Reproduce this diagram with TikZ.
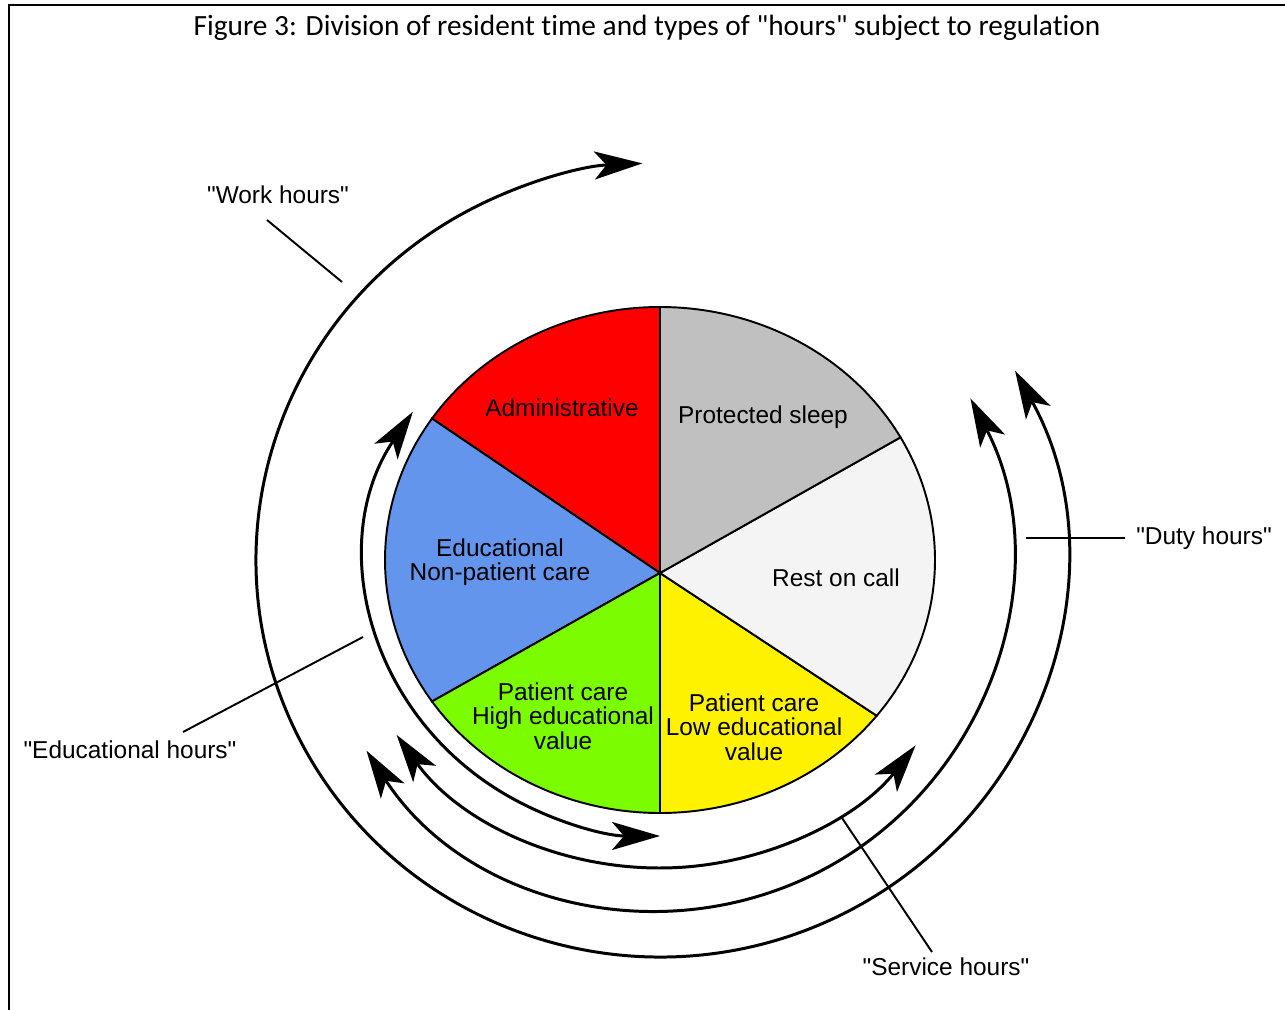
\documentclass[tikz,border=0pt]{standalone}
\usepackage{fontspec}
\setmainfont{Liberation Sans}
\newfontfamily\captionfont[RawFeature={-liga;-clig;-calt;-dlig}]{Carlito}
\usetikzlibrary{calc,arrows.meta}

\tikzset{
  slice/.style={draw=black,line width=1.1pt},
  txt/.style={font=\fontsize{13.9pt}{13.9pt}\selectfont,align=center,inner sep=0pt},
  span/.style={line width=1.7pt},
  leader/.style={line width=1.1pt},
}

\begin{document}
\begin{tikzpicture}[x=0.02cm,y=0.02cm,>={Stealth[length=0.96cm,width=0.56cm,inset=0.24cm]}]
\useasboundingbox (0,0) rectangle (1285,-1010);
\draw[line width=1.7pt] (1285,-5) -- (9,-5) -- (9,-1010);

\node[font=\captionfont\fontsize{16.7pt}{20pt}\selectfont,inner sep=0pt] (title) at (647,-28) {Figure 3: Division of resident time and types of \textquotedbl hours\textquotedbl{} subject to regulation};

% the pie
\coordinate (mid) at (660,-560);
\coordinate (hub) at (660,-573);
\filldraw[slice,fill=red] (hub) -- ($(mid)+(90:275 and 253)$) arc[start angle=90,end angle=146,x radius=275,y radius=253] -- cycle;
\filldraw[slice,fill={rgb,255:red,100;green,149;blue,237}] (hub) -- ($(mid)+(146:275 and 253)$) arc[start angle=146,end angle=214,x radius=275,y radius=253] -- cycle;
\filldraw[slice,fill={rgb,255:red,124;green,252;blue,0}] (hub) -- ($(mid)+(214:275 and 253)$) arc[start angle=214,end angle=270,x radius=275,y radius=253] -- cycle;
\filldraw[slice,fill=yellow] (hub) -- ($(mid)+(270:275 and 253)$) arc[start angle=270,end angle=322,x radius=275,y radius=253] -- cycle;
\filldraw[slice,fill={rgb,255:red,244;green,244;blue,244}] (hub) -- ($(mid)+(-38:275 and 253)$) arc[start angle=-38,end angle=29,x radius=275,y radius=253] -- cycle;
\filldraw[slice,fill={rgb,255:red,192;green,192;blue,192}] (hub) -- ($(mid)+(29:275 and 253)$) arc[start angle=29,end angle=90,x radius=275,y radius=253] -- cycle;

\node[txt] (admin) at (562,-408) {Administrative};
\node[txt] (sleep) at (763,-417) {Protected sleep};
\node[txt] (educ) at (500,-562) {Educational\\Non-patient care};
\node[txt] (rest) at (836,-578) {Rest on call};
\node[txt] (high) at (563,-716) {Patient care\\High educational\\value};
\node[txt] (low) at (754,-727) {Patient care\\Low educational\\value};

% the hours arcs
\draw[span,<->] ($(mid)+(147.5:293 and 276)$) arc[start angle=147.5,end angle=270,x radius=293,y radius=276];
\draw[span,<->] ($(mid)+(214.6:320 and 308)$) arc[start angle=214.6,end angle=323,x radius=320,y radius=308];
\draw[span,<->] ($(mid)+(213:350 and 350)$) arc[start angle=213,end angle=387.5,x radius=350,y radius=350];
\draw[span,<->] ($(mid)+(28.5:404 and 397)$) arc[start angle=28.5,end angle=-267.5,x radius=404,y radius=397];

% labels
\node[txt] (work) at (278,-195) {\textquotedbl Work hours\textquotedbl};
\coordinate (workend) at (342,-282);
\draw[leader] ($(work)+(-11,-25)$) -- (workend);

\node[txt] (edhours) at (130,-750) {\textquotedbl Educational hours\textquotedbl};
\coordinate (edend) at (363,-637);
\draw[leader] ($(edhours)+(53,18)$) -- (edend);

\node[txt] (service) at (946,-967) {\textquotedbl Service hours\textquotedbl};
\coordinate (serviceend) at (842,-818);
\draw[leader] ($(service)+(-14,15)$) -- (serviceend);

\node[txt] (duty) at (1204,-538) {\textquotedbl Duty hours\textquotedbl};
\coordinate (dutyend) at (1026,-538);
\draw[leader] ($(duty)-(79,0)$) -- (dutyend);

\end{tikzpicture}
\end{document}
